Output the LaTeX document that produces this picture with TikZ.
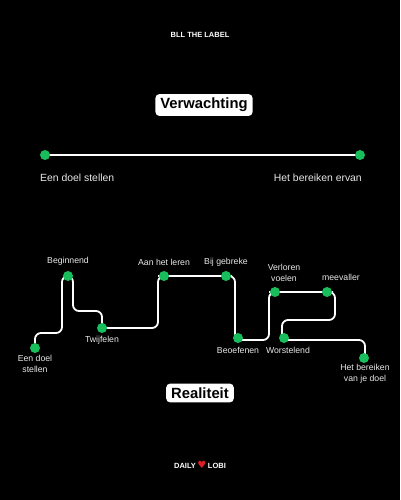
\documentclass[tikz,border=0pt]{standalone}
\usepackage{fontspec}
\setmainfont{Liberation Sans}
\newfontfamily\symfont{DejaVu Sans}
\definecolor{dotgreen}{RGB}{24,190,92}
\definecolor{lbltext}{RGB}{232,232,232}
\definecolor{heartred}{RGB}{220,30,40}
\begin{document}
\begin{tikzpicture}[x=1pt,y=-1pt,
  dot/.style={circle,fill=dotgreen,inner sep=0pt,minimum size=10pt},
  lbl/.style={text=lbltext,inner sep=0pt,align=center,font=\fontsize{8.7}{11}\selectfont},
  toplbl/.style={text=lbltext,inner sep=0pt,font=\fontsize{10.4}{12}\selectfont},
  titlebox/.style={fill=white,text=black,rounded corners=4pt,inner xsep=5pt,inner ysep=4pt,font=\bfseries\fontsize{14.8}{16}\selectfont},
  brand/.style={text=white,inner sep=0pt,font=\bfseries\fontsize{7.5}{9}\selectfont},
  wire/.style={white,line width=1.8pt,rounded corners=6pt}]
\fill[black] (0,0) rectangle (400,500);
\useasboundingbox (0,0) rectangle (400,500);

\node[brand] (brandtop) at (200,35) {BLL THE LABEL};
\node[titlebox] (verw) at (204,105) {Verwachting};

% expectation line
\coordinate (e1) at (45,155);
\coordinate (e2) at (360,155);
\draw[white,line width=1.6pt] (e1) -- (e2);
\node[dot] (ed1) at (e1) {};
\node[dot] (ed2) at (e2) {};
\node[toplbl,anchor=west] (el1) at (40,178) {Een doel stellen};
\node[toplbl,anchor=east] (el2) at (362,178) {Het bereiken ervan};

% reality path
\coordinate (r0) at (35,348);
\coordinate (r1) at (68,276);
\coordinate (r2) at (102,328);
\coordinate (r3) at (164,276);
\coordinate (r4) at (226,276);
\coordinate (r5) at (238,338);
\coordinate (r6) at (275,292);
\coordinate (r7) at (327,292);
\coordinate (r8) at (284,338);
\coordinate (r9) at (364,358);

\draw[wire] (r0) -- (35,333) -- (62,333) -- (62,276) -- (73,276) -- (73,311) -- (102,311) -- (r2)
  -- (158,328) -- (158,276) -- (r3) -- (r4) -- (235,276) -- (235,340) -- (269,340) -- (269,292) -- (r6)
  -- (r7) -- (335,292) -- (335,320) -- (282,320) -- (282,340) -- (365,340) -- (365,358);

\foreach \n in {0,...,9} {\node[dot] (rd\n) at (r\n) {};}

\node[lbl] (l0) at (35,363.5) {Een doel\\stellen};
\node[lbl] (l1) at (68,261) {Beginnend};
\node[lbl] (l2) at (102,340) {Twijfelen};
\node[lbl] (l3) at (164,262) {Aan het leren};
\node[lbl] (l4) at (226,262) {Bij gebreke};
\node[lbl] (l5) at (238,350) {Beoefenen};
\node[lbl] (l6) at (284,272.5) {Verloren\\voelen};
\node[lbl] (l7) at (341,277) {meevaller};
\node[lbl] (l8) at (288,350) {Worstelend};
\node[lbl] (l9) at (365,373.5) {Het bereiken\\van je doel};

\node[titlebox] (real) at (200,393) {Realiteit};

\node[brand] (brandbot) at (200,465) {DAILY\hspace{1.5pt}{\color{heartred}\symfont\fontsize{10}{10}\selectfont ♥}\hspace{1.5pt}LOBI};
\end{tikzpicture}
\end{document}
